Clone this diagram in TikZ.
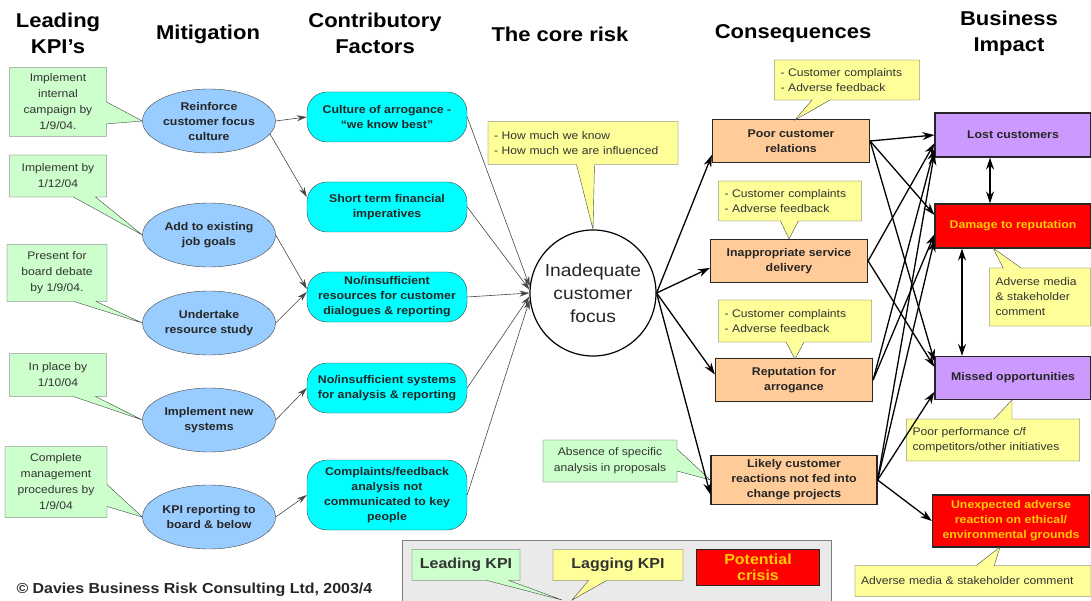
\documentclass[tikz,border=0pt]{standalone}
\usepackage{fontspec}
\setmainfont{Liberation Sans}[FakeStretch=1.1]
\usetikzlibrary{shapes.geometric,shapes.callouts,arrows.meta}
\definecolor{kpigreen}{RGB}{204,255,204}
\definecolor{lagyellow}{RGB}{255,255,153}
\definecolor{mitblue}{RGB}{153,204,255}
\definecolor{factcyan}{RGB}{0,255,255}
\definecolor{conpeach}{RGB}{255,204,153}
\definecolor{implilac}{RGB}{204,153,255}
\definecolor{crisisred}{RGB}{255,0,0}
\definecolor{crisistext}{RGB}{255,204,0}
\definecolor{legendgray}{RGB}{234,234,234}
\definecolor{edgegray}{RGB}{70,70,70}
\tikzset{header/.style={font=\fontsize{20}{26}\selectfont\bfseries, align=center},
         kpi/.style={rectangle callout, draw=edgegray, fill=kpigreen, align=center,
                     font=\fontsize{11}{16}\selectfont, text=black!80, inner sep=0pt,
                     callout pointer width=22pt},
         lag/.style={rectangle callout, draw=edgegray, fill=lagyellow, align=left,
                     font=\fontsize{11}{15}\selectfont, text=black!80, inner xsep=6pt,
                     inner ysep=0pt, callout pointer width=18pt},
         mitig/.style={ellipse, draw=edgegray, fill=mitblue, minimum width=133pt,
                     minimum height=64pt, inner sep=0pt, align=center,
                     font=\fontsize{11.2}{15}\selectfont\bfseries, text=black!85},
         factor/.style={rectangle, rounded corners=20pt, draw=edgegray, fill=factcyan,
                     minimum width=160pt, minimum height=50pt, inner sep=0pt, align=center,
                     font=\fontsize{11.2}{15}\selectfont\bfseries, text=black!85},
         conseq/.style={rectangle, draw=black!85, line width=1.2pt, fill=conpeach,
                     minimum width=157pt, minimum height=43pt, inner sep=0pt, align=center,
                     font=\fontsize{11.2}{15}\selectfont\bfseries, text=black!85},
         impact/.style={conseq, fill=implilac, minimum width=156pt, minimum height=44pt},
         crisis/.style={impact, fill=crisisred, text=crisistext}}

\begin{document}
\begin{tikzpicture}[x=1pt, y=-1pt,
        thinarrow/.style={-{Stealth[length=10pt,width=6pt]}, draw=edgegray, line width=0.6pt},
        thickarrow/.style={-{Stealth[length=12pt,width=8pt]}, draw=black, line width=1.3pt},
        legendtxt/.style={font=\fontsize{14.5}{16}\selectfont\bfseries}]
	\useasboundingbox (0,0) rectangle (1091,601);

	% column headings
	\node[header] (hkpi) at (58,33) {Leading\\KPI’s};
	\node[header] (hmit) at (208,34) {Mitigation};
	\node[header] (hfac) at (375,33) {Contributory\\Factors};
	\node[header] (hcore) at (560,34) {The core risk};
	\node[header] (hcon) at (793,34) {Consequences};
	\node[header] (himp) at (1009,33) {Business\\Impact};

	% mitigation
	\node[mitig] (m1) at (209,121) {Reinforce\\customer focus\\culture};
	\node[mitig] (m2) at (209,235) {Add to existing\\job goals};
	\node[mitig] (m3) at (209,323) {Undertake\\resource study};
	\node[mitig] (m4) at (209,420) {Implement new\\systems};
	\node[mitig] (m5) at (209,517) {KPI reporting to\\board \& below};

	% contributory factors
	\node[factor] (f1) at (387,117) {Culture of arrogance -\\“we know best”};
	\node[factor] (f2) at (387,207) {Short term financial\\imperatives};
	\node[factor] (f3) at (387,297) {No/insufficient\\resources for customer\\dialogues \& reporting};
	\node[factor] (f4) at (387,388) {No/insufficient systems\\for analysis \& reporting};
	\node[factor, minimum height=70pt] (f5) at (387,495) {Complaints/feedback\\analysis not\\communicated to key\\people};

	% core risk
	\node[circle, draw=black, line width=1.2pt, minimum size=126pt, inner sep=0pt, align=center,
	      font=\fontsize{17.5}{23}\selectfont, text=black!85] (core) at (593,293) {Inadequate\\customer\\focus};

	% consequences
	\node[conseq] (c1) at (791,141) {Poor customer\\relations};
	\node[conseq] (c2) at (789,261) {Inappropriate service\\delivery};
	\node[conseq] (c3) at (794,380) {Reputation for\\arrogance};
	\node[conseq, minimum width=166pt, minimum height=49pt] (c4) at (794,480) {Likely customer\\reactions not fed into\\change projects};

	% business impact
	\node[impact] (i1) at (1013,135) {Lost customers};
	\node[crisis] (i2) at (1013,226) {Damage to reputation};
	\node[impact, minimum height=43pt] (i3) at (1013,378) {Missed opportunities};
	\node[crisis, minimum width=157pt, minimum height=52pt] (i4) at (1011,521) {Unexpected adverse\\reaction on ethical/\\environmental grounds};

	% leading KPI's
	\node[kpi, minimum width=97pt, minimum height=69pt, callout absolute pointer={(m1.west)}] (k1) at (58,102) {Implement\\internal\\campaign by\\1/9/04.};
	\node[kpi, minimum width=97pt, minimum height=42pt, callout absolute pointer={(m2.west)}] (k2) at (58,176) {Implement by\\1/12/04};
	\node[kpi, minimum width=100pt, minimum height=57pt, callout absolute pointer={(m3.west)}] (k3) at (57,273) {Present for\\board debate\\by 1/9/04.};
	\node[kpi, minimum width=97pt, minimum height=43pt, callout absolute pointer={(m4.west)}] (k4) at (58,375) {In place by\\1/10/04};
	\node[kpi, minimum width=102pt, minimum height=71pt, callout absolute pointer={(m5.west)}] (k5) at (56,482) {Complete\\management\\procedures by\\1/9/04};
	\node[kpi, minimum width=134pt, minimum height=42pt, callout absolute pointer={(c4.west)}] (k6) at (610,461) {Absence of specific\\analysis in proposals};

	% lagging KPI's
	\node[lag, text width=178pt, minimum height=43pt, callout absolute pointer={(core.north)}] (y0) at (583,143) {- How much we know\\- How much we are influenced};
	\node[lag, text width=133pt, minimum height=40pt, callout absolute pointer={(795,120)}] (y1) at (847,80) {- Customer complaints\\- Adverse feedback};
	\node[lag, text width=131pt, minimum height=40pt, callout absolute pointer={(c2.north)}] (y2) at (790,201) {- Customer complaints\\- Adverse feedback};
	\node[lag, text width=141pt, minimum height=42pt, callout absolute pointer={(795,359)}] (y3) at (795,321) {- Customer complaints\\- Adverse feedback};
	\node[lag, text width=89pt, minimum height=58pt, callout absolute pointer={(993,248)}] (y4) at (1040,297) {Adverse media\\\& stakeholder\\comment};
	\node[lag, text width=161pt, minimum height=42pt, callout absolute pointer={(1012,400)}] (y5) at (993,440) {Poor performance c/f\\competitors/other initiatives};
	\node[lag, text width=224pt, minimum height=31pt, callout absolute pointer={(1000,547)}] (y6) at (973,581) {Adverse media \& stakeholder comment};

	% mitigation -> factors -> core
	\draw[thinarrow] (m1.east) -- (f1.west);
	\draw[thinarrow] (m1.-12) -- ([yshift=10pt]f2.west);
	\draw[thinarrow] (m2.east) -- ([yshift=8pt]f3.west);
	\draw[thinarrow] (m3.east) -- ([yshift=5pt]f3.west);
	\draw[thinarrow] (m4.east) -- (f4.west);
	\draw[thinarrow] (m5.east) -- (f5.west);
	\draw[thinarrow] (f1.east) -- (core.174);
	\draw[thinarrow] (f2.east) -- (core.177);
	\draw[thinarrow] (f3.east) -- (core.180);
	\draw[thinarrow] (f4.east) -- (core.183);
	\draw[thinarrow] (f5.east) -- (core.186);

	% core -> consequences
	\draw[thickarrow] (core.east) -- (c1.190);
	\draw[thickarrow] (core.east) -- (c2.185);
	\draw[thickarrow] (core.east) -- (c3.176);
	\draw[thickarrow] (core.east) -- (c4.190);

	% consequences -> impact
	\draw[thickarrow] (c1.east) -- (i1.west);
	\draw[thickarrow] (c1.east) -- (i2.172);
	\draw[thickarrow] (c1.east) -- (i3.168);
	\draw[thickarrow] (c2.east) -- (i1.186);
	\draw[thickarrow] (c2.east) -- (i3.172);
	\draw[thickarrow] (c3.east) -- (i1.190);
	\draw[thickarrow] (c3.east) -- (i2.186);
	\draw[thickarrow] (c4.east) -- (i1.193);
	\draw[thickarrow] (c4.east) -- (i2.190);
	\draw[thickarrow] (c4.east) -- (i3.190);
	\draw[thickarrow] (c4.east) -- (i4.west);
	\draw[thickarrow, {Stealth[length=12pt,width=8pt]}-{Stealth[length=12pt,width=8pt]}] ([xshift=-23pt]i1.south) -- ([xshift=-23pt]i2.north);
	\draw[thickarrow, {Stealth[length=12pt,width=8pt]}-{Stealth[length=12pt,width=8pt]}] ([xshift=-51pt]i2.south) -- ([xshift=-51pt]i3.north);

	% legend
	\draw[draw=edgegray!70, fill=legendgray] (402,540) rectangle (831,606);
	\node[kpi, legendtxt, minimum width=108pt, minimum height=31pt, callout absolute pointer={(562,600)}] (lg1) at (466,565) {Leading KPI};
	\node[lag, legendtxt, align=center, minimum width=130pt, minimum height=31pt, callout absolute pointer={(572,600)}] (lg2) at (618,565) {Lagging KPI};
	\node[crisis, legendtxt, line width=1pt, minimum width=123pt, minimum height=36pt] (lg3) at (758,567) {Potential\\crisis};

	\node[anchor=west, font=\fontsize{14.5}{16}\selectfont\bfseries, text=black!85] (copy) at (13,590) {© Davies Business Risk Consulting Ltd, 2003/4};
\end{tikzpicture}
\end{document}
